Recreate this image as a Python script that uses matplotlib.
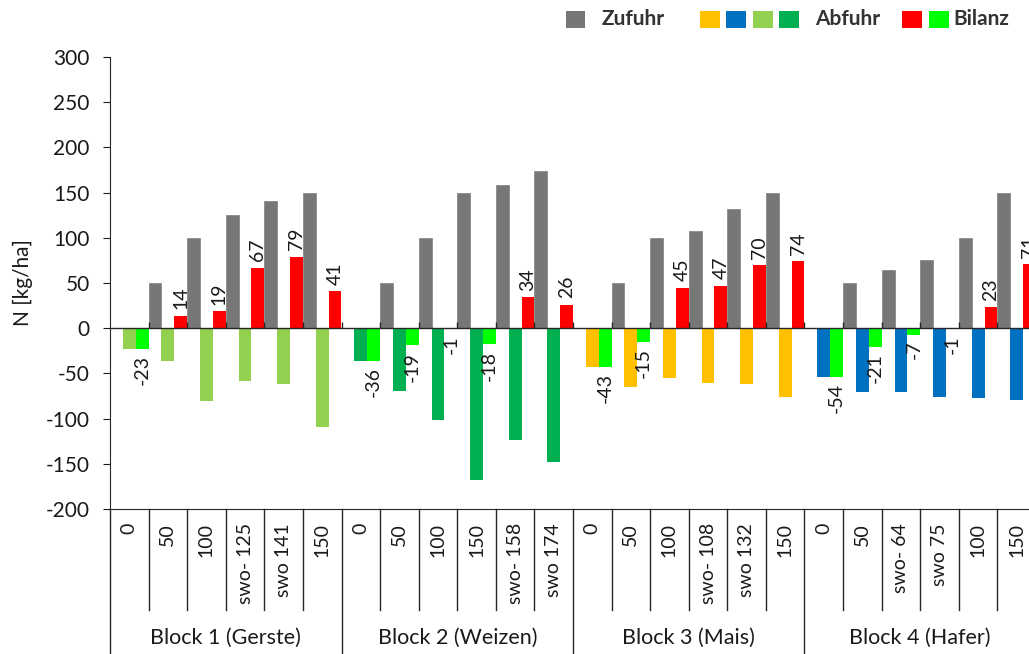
import matplotlib
matplotlib.use("Agg")
import matplotlib.pyplot as plt
import matplotlib.transforms as mtransforms
from matplotlib.patches import Rectangle

plt.rcParams['font.family'] = ['Lato', 'DejaVu Sans']
plt.rcParams['axes.unicode_minus'] = False

blocks = ["Block 1 (Gerste)", "Block 2 (Weizen)", "Block 3 (Mais)", "Block 4 (Hafer)"]
categories = [
    ["0", "50", "100", "swo- 125", "swo 141", "150"],
    ["0", "50", "100", "150", "swo- 158", "swo 174"],
    ["0", "50", "100", "swo- 108", "swo 132", "150"],
    ["0", "50", "swo- 64", "swo 75", "100", "150"],
]
zufuhr = [
    [0, 50, 100, 125, 141, 150],
    [0, 50, 100, 150, 158, 174],
    [0, 50, 100, 108, 132, 150],
    [0, 50, 64, 75, 100, 150],
]
abfuhr = [
    [-23, -36, -81, -58, -62, -109],
    [-36, -69, -101, -168, -124, -148],
    [-43, -65, -55, -61, -62, -76],
    [-54, -71, -71, -76, -77, -79],
]
bilanz = [
    [-23, 14, 19, 67, 79, 41],
    [-36, -19, -1, -18, 34, 26],
    [-43, -15, 45, 47, 70, 74],
    [-54, -21, -7, -1, 23, 71],
]
abfuhr_colors = ["#92D050", "#00B050", "#FFC000", "#0070C0"]
zufuhr_color = "#777777"
bilanz_pos_color = "#FF0000"
bilanz_neg_color = "#00FF00"

W, H = 1029, 654
fig = plt.figure(figsize=(W / 100, H / 100), dpi=100)
ax_left, ax_right, ax_top, ax_bottom = 110, 1036, 57, 509
ax = fig.add_axes([ax_left / W, (H - ax_bottom) / H, (ax_right - ax_left) / W, (ax_bottom - ax_top) / H])

n_per = 6
n_cat = n_per * len(blocks)
bw = 1 / 3
text_col = "#1a1a1a"

for b in range(len(blocks)):
    for j in range(n_per):
        i = b * n_per + j
        z = zufuhr[b][j]
        a = abfuhr[b][j]
        bl = bilanz[b][j]
        ax.bar(i - bw, z, width=bw, color=zufuhr_color, edgecolor="#8a8a8a", linewidth=0.6)
        ax.bar(i, a, width=bw, color=abfuhr_colors[b], linewidth=0)
        ax.bar(i + bw, bl, width=bw, color=bilanz_pos_color if bl > 0 else bilanz_neg_color, linewidth=0)
        if bl >= 0:
            ax.text(i + bw, bl + 7, str(bl), rotation=90, ha="center", va="bottom",
                    fontsize=14, color=text_col)
        else:
            ax.text(i + bw, bl - 7, str(bl), rotation=90, ha="center", va="top",
                    fontsize=14, color=text_col)

ax.set_xlim(-0.5, n_cat - 0.5)
ax.set_ylim(-200, 300)
ax.set_yticks(range(-200, 301, 50))
ax.tick_params(axis="y", direction="out", length=5, labelsize=15, colors=text_col, pad=9.5)
ax.set_xticks([])
for s in ["top", "right"]:
    ax.spines[s].set_visible(False)
ax.spines["left"].set_color("#262626")
ax.spines["bottom"].set_color("#262626")
ax.set_ylabel("N [kg/ha]", fontsize=15, color=text_col, labelpad=9)

# zero line with category boundary ticks
ax.axhline(0, color="#262626", lw=1)
bounds = [k + 0.5 for k in range(n_cat)]
ax.vlines(bounds, 0, 7, color="#262626", lw=1)

# multi-level category axis
trans = mtransforms.blended_transform_factory(ax.transData, ax.transAxes)
ax_h = ax_bottom - ax_top
y_short = -(610 - ax_bottom) / ax_h
y_long = -(H + 5 - ax_bottom) / ax_h
for k in range(n_cat):
    xb = k + 0.5
    is_block = (k + 1) % n_per == 0
    ax.plot([xb, xb], [0, y_long if is_block else y_short], transform=trans,
            color="#262626", lw=1, clip_on=False)
ax.plot([-0.5, -0.5], [0, y_long], transform=trans, color="#262626", lw=1, clip_on=False)

y_lab = -(523 - ax_bottom) / ax_h
y_blk = -(638 - ax_bottom) / ax_h
for b in range(len(blocks)):
    for j in range(n_per):
        i = b * n_per + j
        ax.text(i, y_lab, categories[b][j], rotation=90, ha="center", va="top",
                fontsize=14, color=text_col, transform=trans)
    ax.text(b * n_per + (n_per - 1) / 2, y_blk, blocks[b], ha="center", va="center",
            fontsize=15.5, color=text_col, transform=trans)

# legend (top)
def fig_rect(x0, x1, y0, y1, color):
    fig.patches.append(Rectangle((x0 / W, (H - y1) / H), (x1 - x0) / W, (y1 - y0) / H,
                                 transform=fig.transFigure, facecolor=color, edgecolor="none"))

def fig_text(x, y, s):
    fig.text(x / W, (H - y) / H, s, ha="left", va="center", fontsize=15,
             fontweight="bold", color="#333333")

fig_rect(566, 585, 11, 28, zufuhr_color)
fig_text(602, 19, "Zufuhr")
for x0, c in zip([700, 726, 753, 779], ["#FFC000", "#0070C0", "#92D050", "#00B050"]):
    fig_rect(x0, x0 + 20, 11, 28, c)
fig_text(815, 19, "Abfuhr")
fig_rect(902, 922, 11, 28, bilanz_pos_color)
fig_rect(929, 949, 11, 28, bilanz_neg_color)
fig_text(953, 19, "Bilanz")

fig.savefig("out.png", dpi=100)
